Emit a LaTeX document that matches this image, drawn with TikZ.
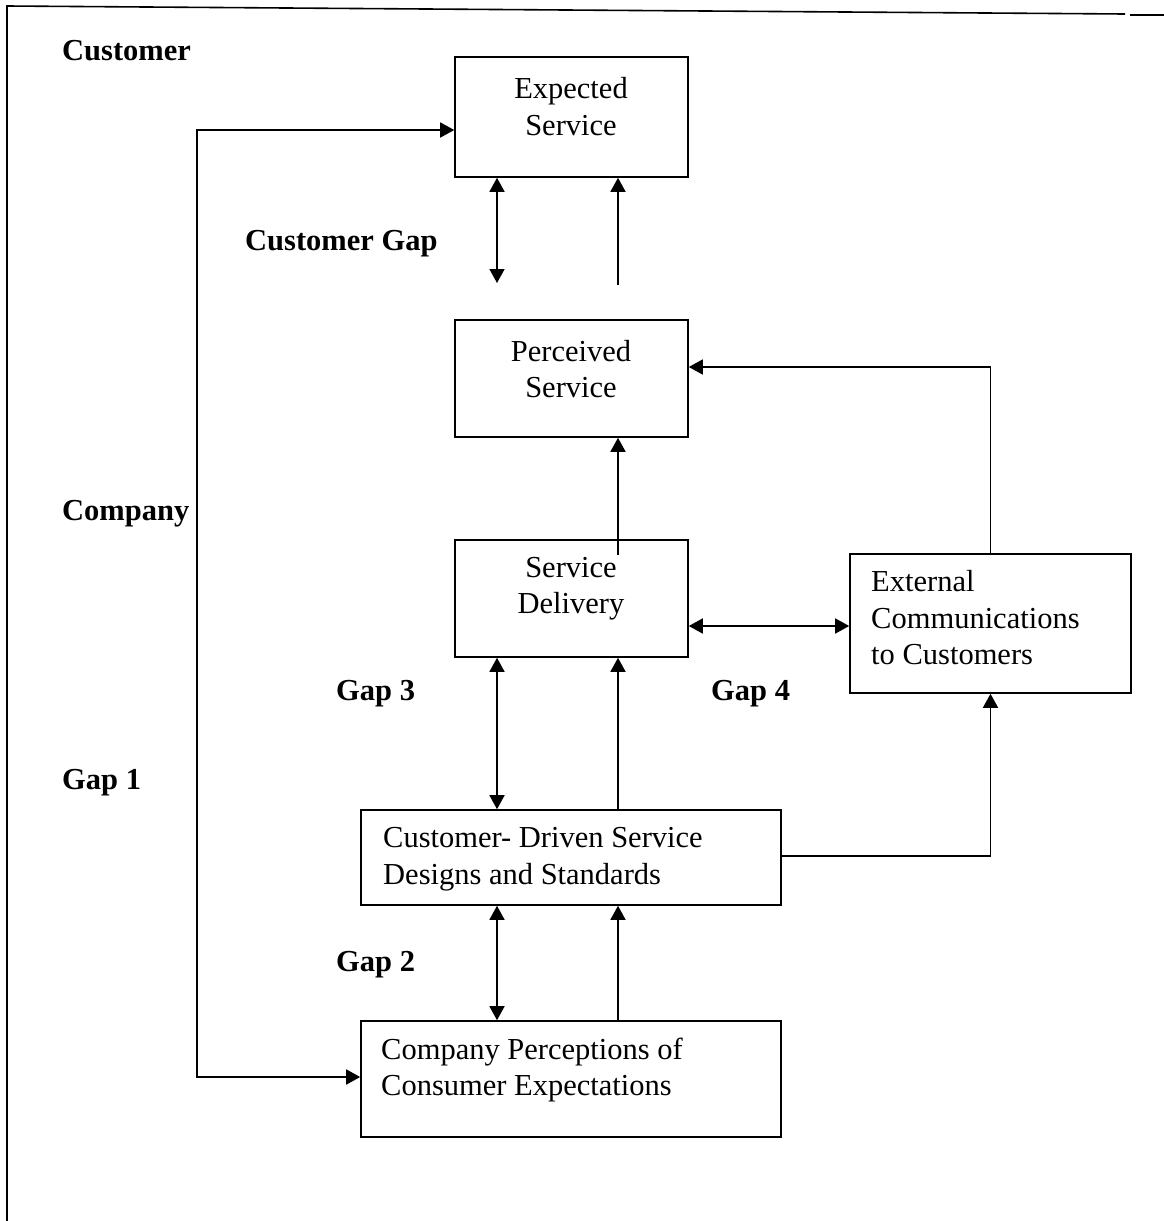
\documentclass[tikz,border=0pt]{standalone}
\usepackage{fontspec}
\setmainfont{Liberation Serif}
\usetikzlibrary{arrows.meta}
\begin{document}
\begin{tikzpicture}[x=1pt,y=-1pt,
  box/.style={draw, line width=1.6pt, inner sep=0pt},
  conn/.style={line width=1.6pt},
  tip/.tip={Triangle[length=14pt,width=15pt]},
  dbl/.style={conn, tip-tip},
  one/.style={conn, -tip},
  txt/.style={inner sep=0pt, font=\fontsize{30.5}{36.5}\selectfont},
  lbl/.style={inner sep=0pt, anchor=west, font=\fontsize{30.5}{36.5}\selectfont\bfseries}]
\useasboundingbox (0,0) rectangle (1164,1221);
% frame
\draw[line width=1.6pt] (7,1221) -- (7,6) -- (1125,14);
\draw[line width=1.6pt] (1130,15) -- (1164,15);
% boxes
\node[box, minimum width=233pt, minimum height=120pt] (exp) at (571.5,117) {};
\node[box, minimum width=233pt, minimum height=117pt] (per) at (571.5,378.5) {};
\node[box, minimum width=233pt, minimum height=117pt] (del) at (571.5,598.5) {};
\node[box, minimum width=281pt, minimum height=139pt] (ext) at (990.5,623.5) {};
\node[box, minimum width=420pt, minimum height=95pt] (des) at (571,857.5) {};
\node[box, minimum width=420pt, minimum height=116pt] (cpe) at (571,1079) {};
% box texts
\node[txt, align=center] at (571,106.5) {Expected\\Service};
\node[txt, align=center] at (571,369) {Perceived\\Service};
\node[txt, align=center] at (571,588.5) {Service\\Delivery};
\node[txt, align=left, anchor=west] at (871,618) {External\\Communications\\to Customers};
\node[txt, align=left, anchor=west] at (383,859) {Customer- Driven Service\\Designs and Standards};
\node[txt, align=left, anchor=west] at (381,1070) {Company Perceptions of\\Consumer Expectations};
% labels
\node[lbl] at (62,51) {Customer};
\node[lbl] at (245,244) {Customer Gap};
\node[lbl] at (62,514) {Company};
\node[lbl] at (336,694) {Gap 3};
\node[lbl] at (711,694) {Gap 4};
\node[lbl] at (62,783) {Gap 1};
\node[lbl] at (336,965) {Gap 2};
% helper coordinates
\coordinate (xa) at (497,0);
\coordinate (xb) at (618,0);
\coordinate (xl) at (197,0);
\coordinate (cgA) at (497,283);
\coordinate (cgB) at (618,285);
\coordinate (dtop) at (618,555);
% connectors
\draw[dbl] (exp.west |- 0,130) -- (xl |- 0,130) -- (xl |- 0,1077) -- (cpe.west |- 0,1077);
\draw[dbl] (exp.south -| xa) -- (cgA);
\draw[one] (cgB) -- (exp.south -| xb);
\draw[one] (dtop) -- (per.south -| xb);
\draw[one] (ext.north) -- (ext.north |- 0,367) -- (per.east |- 0,367);
\draw[dbl] (del.east |- 0,626) -- (ext.west |- 0,626);
\draw[dbl] (del.south -| xa) -- (des.north -| xa);
\draw[one] (des.north -| xb) -- (del.south -| xb);
\draw[one] (des.east |- 0,856) -- (ext.south |- 0,856) -- (ext.south);
\draw[dbl] (des.south -| xa) -- (cpe.north -| xa);
\draw[one] (cpe.north -| xb) -- (des.south -| xb);
\end{tikzpicture}
\end{document}
